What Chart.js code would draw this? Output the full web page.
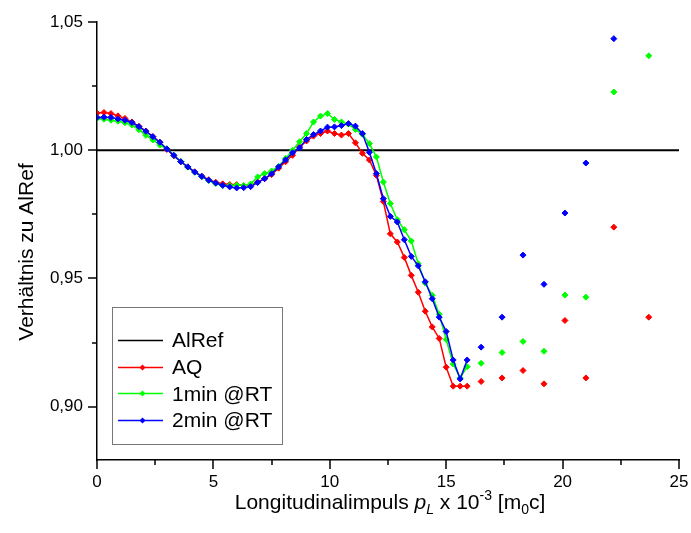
<!DOCTYPE html>
<html><head><meta charset="utf-8">
<script src="https://cdn.jsdelivr.net/npm/chart.js@4.4.1/dist/chart.umd.min.js"></script>
<style>html,body{margin:0;padding:0;background:#fff}#wrap{width:691px;height:533px;position:relative}</style>
</head><body><div id="wrap"><canvas id="c" width="691" height="533"></canvas></div>
<script>
// ---- data ----
const pL = [0,0.3,0.6,0.9,1.2,1.5,1.8,2.1,2.4,2.7,3.0,3.3,3.6,3.9,4.2,4.5,4.8,5.1,5.4,5.7,6.0,6.3,6.6,6.9,7.2,7.5,7.8,8.1,8.4,8.7,9.0,9.3,9.6,9.9,10.2,10.5,10.8,11.1,11.4,11.7,12.0,12.3,12.6,12.9,13.2,13.5,13.8,14.1,14.4,14.7,15.0,15.3,15.6,15.9];
const aq = [1.0145,1.0147,1.0143,1.0134,1.0124,1.0110,1.0093,1.0075,1.0053,1.0031,1.0003,0.9978,0.9955,0.9935,0.9916,0.9899,0.9885,0.9875,0.9869,0.9866,0.9866,0.9862,0.9864,0.9876,0.9889,0.9905,0.9930,0.9955,0.9980,1.0013,1.0036,1.0055,1.0065,1.0075,1.0065,1.0059,1.0065,1.0029,0.9988,0.9962,0.9902,0.9800,0.9674,0.9642,0.9582,0.9512,0.9446,0.9372,0.9311,0.9266,0.9154,0.9080,0.9080,0.9080];
const min1 = [1.0124,1.0121,1.0117,1.0113,1.0107,1.0098,1.0080,1.0058,1.0040,1.0020,1.0006,0.9980,0.9956,0.9934,0.9914,0.9897,0.9882,0.9870,0.9862,0.9862,0.9864,0.9862,0.9868,0.9896,0.9909,0.9919,0.9937,0.9968,1.0000,1.0033,1.0065,1.0110,1.0133,1.0143,1.0120,1.0110,1.0102,1.0081,1.0062,1.0026,0.9974,0.9876,0.9792,0.9729,0.9690,0.9646,0.9557,0.9482,0.9434,0.9360,0.9262,0.9166,0.9112,0.9156];
const min2 = [1.0128,1.0129,1.0128,1.0122,1.0117,1.0108,1.0092,1.0074,1.0053,1.0031,1.0005,0.9980,0.9955,0.9935,0.9915,0.9898,0.9883,0.9872,0.9863,0.9857,0.9853,0.9854,0.9858,0.9874,0.9889,0.9908,0.9935,0.9962,0.9990,1.0009,1.0042,1.0061,1.0075,1.0090,1.0091,1.0096,1.0104,1.0094,1.0065,0.9992,0.9909,0.9811,0.9742,0.9720,0.9651,0.9586,0.9549,0.9487,0.9421,0.9349,0.9293,0.9182,0.9108,0.9182];
// isolated points (not connected)
const pLTail = [16.5,17.4,18.3,19.2,20.1,21.0,22.2,23.7];
const aqTail = [0.9098,0.9112,0.9141,0.9089,0.9336,0.9112,0.9700,0.9349];
const min1Tail = [0.9169,0.9211,0.9254,0.9216,0.9435,0.9427,1.0227,1.0368];
const min2Tail = [0.9232,0.9349,0.9591,0.9477,0.9755,0.9950,1.0435,null];
const refX = [0,25];
const refY = [1.0,1.0];
const seriesNames = ['AlRef','AQ','1min @RT','2min @RT'];
const xTicks = [0,5,10,15,20,25];
const xMinor = [2.5,7.5,12.5,17.5,22.5];
const yTicks = [0.90,0.95,1.00,1.05];
const yMinor = [0.925,0.975,1.025];

function build(xs, ys, tx, ty){
  const out = xs.map((x,i)=>({x:x, y:ys[i]}));
  tx.forEach((x,i)=>{ out.push({x:x-0.15, y:null}); if(ty[i]!==null) out.push({x:x, y:ty[i]}); });
  return out;
}

const FONT = "'Liberation Sans', Arial, sans-serif";

const decor = {
  id:'decor',
  afterDraw(chart){
    const ctx = chart.ctx, xs = chart.scales.x, ys = chart.scales.y, ca = chart.chartArea;
    ctx.save();
    ctx.strokeStyle = '#000'; ctx.lineWidth = 1.5;
    const seg=(a,b,c,d)=>{ctx.beginPath();ctx.moveTo(a,b);ctx.lineTo(c,d);ctx.stroke();};
    xTicks.forEach(v=>{const p=Math.round(xs.getPixelForValue(v));seg(p,ca.bottom,p,ca.bottom+9);});
    xMinor.forEach(v=>{const p=Math.round(xs.getPixelForValue(v));seg(p,ca.bottom,p,ca.bottom+5);});
    yTicks.forEach(v=>{const p=Math.round(ys.getPixelForValue(v));seg(ca.left,p,ca.left-9,p);});
    yMinor.forEach(v=>{const p=Math.round(ys.getPixelForValue(v));seg(ca.left,p,ca.left-5,p);});

    // y title
    ctx.fillStyle='#000';
    ctx.save();
    ctx.translate(33, 252); ctx.rotate(-Math.PI/2);
    ctx.font = '21px '+FONT; ctx.textAlign='center'; ctx.textBaseline='alphabetic';
    ctx.fillText('Verhältnis zu AlRef', 0, 0);
    ctx.restore();

    // x title with italic / sub / sup pieces
    const parts = [
      {t:'Longitudinalimpuls ', f:'21px '+FONT, dy:0},
      {t:'p', f:'italic 21px '+FONT, dy:0},
      {t:'L', f:'italic 14px '+FONT, dy:5},
      {t:' x 10', f:'21px '+FONT, dy:0},
      {t:'-3', f:'14px '+FONT, dy:-9},
      {t:' [m', f:'21px '+FONT, dy:0},
      {t:'0', f:'14px '+FONT, dy:5},
      {t:'c]', f:'21px '+FONT, dy:0}
    ];
    let total=0; parts.forEach(p=>{ctx.font=p.f; p.w=ctx.measureText(p.t).width; total+=p.w;});
    let x0 = 390 - total/2; const base = 509;
    ctx.textAlign='left'; ctx.textBaseline='alphabetic';
    parts.forEach(p=>{ctx.font=p.f; ctx.fillText(p.t, x0, base+p.dy); x0+=p.w;});

    // legend box
    ctx.strokeStyle='#777'; ctx.lineWidth=1;
    ctx.strokeRect(112.5, 307.5, 170, 137);
    chart.data.datasets.forEach((ds,i)=>{
      const by = 347.3 + i*26.7; const ly = Math.round(by-7.3)+0.5;
      ctx.strokeStyle = ds.borderColor; ctx.lineWidth = 1.5;
      seg(118, ly, 163, ly);
      if (ds.pointRadius>0){
        ctx.fillStyle = ds.borderColor;
        ctx.beginPath(); ctx.moveTo(142.5, ly-3); ctx.lineTo(145.5, ly); ctx.lineTo(142.5, ly+3); ctx.lineTo(139.5, ly); ctx.closePath(); ctx.fill();
      }
      ctx.fillStyle='#000'; ctx.font='21px '+FONT; ctx.textAlign='left'; ctx.textBaseline='alphabetic';
      ctx.fillText(ds.label, 172, by);
    });
    ctx.restore();
  }
};

const lineDs = (label, data, color, order, pts) => ({
  label, data, borderColor: color, backgroundColor: color, borderWidth: 1.5,
  pointStyle: 'rectRot', pointRadius: pts?3:0, pointHoverRadius: pts?3:0, pointBorderWidth: 1,
  pointBackgroundColor: color, pointBorderColor: color, tension: 0, spanGaps: false, order, fill:false
});

new Chart(document.getElementById('c'), {
  type: 'line',
  data: { datasets: [
    Object.assign(lineDs(seriesNames[0], refX.map((x,i)=>({x, y:refY[i]})), '#000000', 3, false), {borderWidth: 2}),
    lineDs(seriesNames[1], build(pL, aq, pLTail, aqTail), '#ff0000', 2, true),
    lineDs(seriesNames[2], build(pL, min1, pLTail, min1Tail), '#00ff00', 1, true),
    lineDs(seriesNames[3], build(pL, min2, pLTail, min2Tail), '#0000ff', 0, true)
  ]},
  options: {
    responsive: false, animation: false, devicePixelRatio: 1,
    layout: { padding: { top: 22, right: 12, left: 0, bottom: 0 } },
    plugins: { legend: { display: false }, tooltip: { enabled: false } },
    scales: {
      x: { type: 'linear', min: 0, max: 25,
        grid: { display: false, drawTicks: false },
        border: { display: true, color: '#000', width: 1.5 },
        afterBuildTicks: s => { s.ticks = xTicks.map(v=>({value:v})); },
        afterFit: s => { s.height = 73; s.paddingLeft = 0; s.paddingRight = 0; },
        ticks: { color: '#000', font: { family: FONT, size: 17 }, padding: 12, maxRotation: 0, autoSkip: false,
          callback: v => String(v) } },
      y: { type: 'linear', min: 0.8792, max: 1.05,
        grid: { display: false, drawTicks: false },
        border: { display: true, color: '#000', width: 1.5 },
        afterBuildTicks: s => { s.ticks = yTicks.map(v=>({value:v})); },
        afterFit: s => { s.width = 97; s.paddingTop = 0; s.paddingBottom = 0; },
        ticks: { color: '#000', font: { family: FONT, size: 17 }, padding: 14, autoSkip: false,
          callback: v => v.toFixed(2).replace('.', ',') } }
    }
  },
  plugins: [decor]
});
</script></body></html>
